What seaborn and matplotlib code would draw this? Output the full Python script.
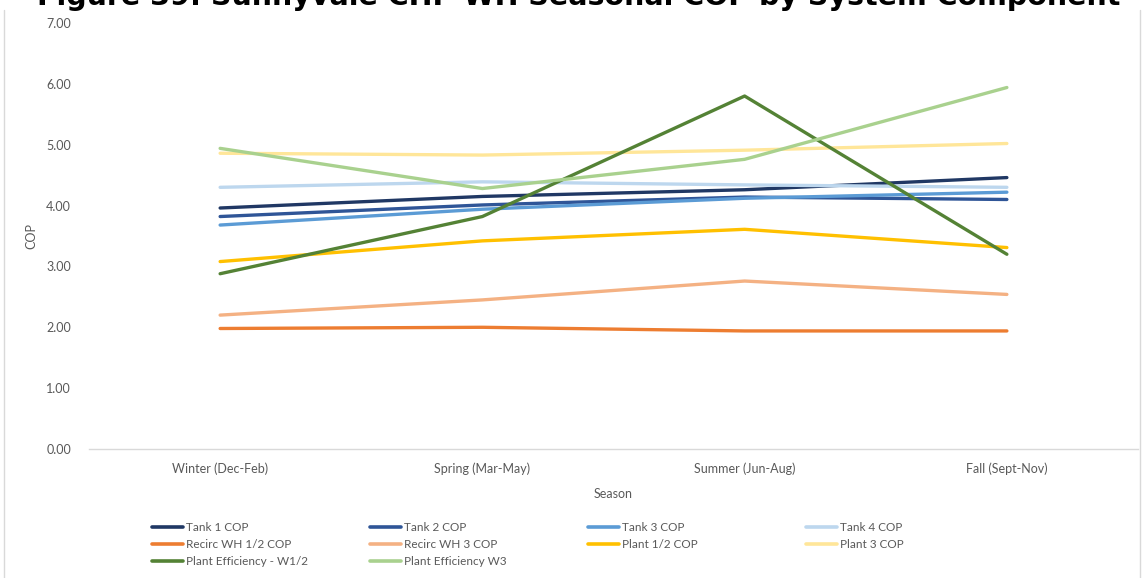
import matplotlib
matplotlib.use("Agg")
import matplotlib.pyplot as plt
from matplotlib.lines import Line2D
import seaborn as sns
import pandas as pd

# Seasonal COP values
seasons = ['Winter (Dec-Feb)', 'Spring (Mar-May)', 'Summer (Jun-Aug)', 'Fall (Sept-Nov)']
tank1 = [3.96, 4.15, 4.26, 4.46]
tank2 = [3.82, 4.01, 4.14, 4.10]
tank3 = [3.68, 3.94, 4.12, 4.22]
tank4 = [4.30, 4.39, 4.34, 4.30]
recirc_12 = [1.98, 2.00, 1.94, 1.94]
recirc_3 = [2.20, 2.45, 2.76, 2.54]
plant_12 = [3.08, 3.42, 3.61, 3.31]
plant_3 = [4.86, 4.83, 4.91, 5.02]
plant_eff_12 = [2.88, 3.82, 5.80, 3.20]
plant_eff_3 = [4.94, 4.28, 4.76, 5.94]

series_names = ['Tank 1 COP', 'Tank 2 COP', 'Tank 3 COP', 'Tank 4 COP',
                'Recirc WH 1/2 COP', 'Recirc WH 3 COP', 'Plant 1/2 COP', 'Plant 3 COP',
                'Plant Efficiency - W1/2', 'Plant Efficiency W3']
series_values = [tank1, tank2, tank3, tank4, recirc_12, recirc_3,
                 plant_12, plant_3, plant_eff_12, plant_eff_3]
colors = ['#203864', '#2F5597', '#5B9BD5', '#BDD7EE',
          '#ED7D31', '#F4B183', '#FFC000', '#FFE699',
          '#548235', '#A9D18E']

rows = []
for name, vals in zip(series_names, series_values):
    for s, v in zip(seasons, vals):
        rows.append({'Season': s, 'COP': v, 'Series': name})
df = pd.DataFrame(rows)
palette = dict(zip(series_names, colors))

sns.set_style('white')
plt.rcParams['font.family'] = ['Lato', 'DejaVu Sans']

fig = plt.figure(figsize=(11.44, 5.78), dpi=100)
ax = fig.add_axes([89 / 1144, 1 - 449 / 578, (1138 - 89) / 1144, (449 - 23) / 578])

sns.lineplot(data=df, x='Season', y='COP', hue='Series', palette=palette,
             hue_order=series_names, sort=False, linewidth=2.4, ax=ax, legend=False)

ax.set_ylim(0, 7)
ax.set_xlim(-0.5, 3.5)
ax.set_yticks(range(0, 8))
ax.set_yticklabels([f'{v:.2f}' for v in range(0, 8)])
grey = '#595959'
ax.tick_params(axis='both', colors=grey, labelsize=9, length=0)
ax.tick_params(axis='x', pad=10)
ax.tick_params(axis='y', pad=13)
for side in ['top', 'right', 'left']:
    ax.spines[side].set_visible(False)
ax.spines['bottom'].set_color('#d9d9d9')
ax.spines['bottom'].set_linewidth(1)
ax.set_xlabel('Season', color=grey, fontsize=9, labelpad=9)
ax.set_ylabel('COP', color=grey, fontsize=9, labelpad=6)

# legend: 4 equal-width columns, filled row-wise like the original
col_x = [152, 370, 588, 806]
for c in range(4):
    idx = list(range(c, len(series_names), 4))
    handles = [Line2D([0], [0], color=colors[i], lw=2.6) for i in idx]
    labels = [series_names[i] for i in idx]
    fig.legend(handles, labels, loc='upper left', frameon=False,
               bbox_to_anchor=(col_x[c] / 1144, 1 - 522 / 578),
               fontsize=8.5, handlelength=2.6, handletextpad=0.3,
               labelspacing=0.5, borderaxespad=0, borderpad=0,
               labelcolor=grey)

# chart border (sides only visible)
for xb in [4 / 1144, 1140 / 1144]:
    fig.add_artist(Line2D([xb, xb], [0, 1 - 10 / 578], color='#d9d9d9', lw=1))

fig.text(0.506, 1 - 5 / 578,
         'Figure 39: Sunnyvale CHP WH Seasonal COP by System Component',
         ha='center', va='baseline', fontsize=20.5, fontweight='bold',
         family='DejaVu Sans', color='black')

fig.savefig('out.png', dpi=100)
